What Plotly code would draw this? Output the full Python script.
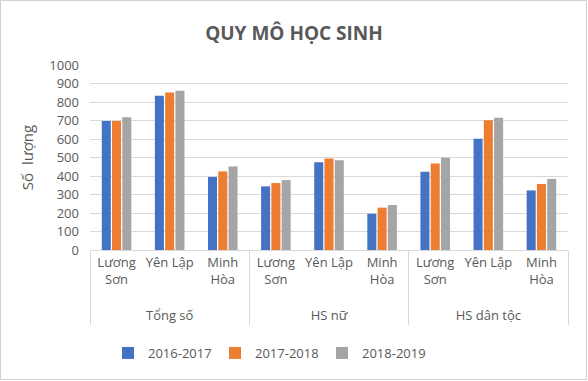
import plotly.graph_objects as go

groups = ["Tổng số", "HS nữ", "HS dân tộc"]
places = ["Lương<br>Sơn", "Yên Lập", "Minh<br>Hòa"]
series_names = ["2016-2017", "2017-2018", "2018-2019"]
v2016 = [697, 834, 395, 344, 474, 196, 423, 602, 322]
v2017 = [697, 852, 425, 362, 494, 229, 468, 701, 357]
v2018 = [718, 861, 452, 378, 485, 243, 499, 715, 384]
colors = ["#4472C4", "#ED7D31", "#A5A5A5"]

xg = ["<br>" + g for g in groups for _ in places]
xp = [p for _ in groups for p in places]

fig = go.Figure()
for name, vals, c in zip(series_names, [v2016, v2017, v2018], colors):
    fig.add_trace(go.Bar(x=[xg, xp], y=vals, name=name, marker_color=c,
                         marker_line_width=0))

W, H = 588, 381
L, R, T, B = 90, 20, 65, 131
pw, ph = W - L - R, H - T - B

fig.update_layout(
    width=W, height=H,
    margin=dict(l=L, r=R, t=T, b=B, autoexpand=False),
    paper_bgcolor="white", plot_bgcolor="white",
    font=dict(family="Open Sans, Liberation Sans, sans-serif", color="#595959", size=12),
    title=dict(text="<b>QUY MÔ HỌC SINH</b>", x=0.5, xanchor="center", y=1 - 33 / H,
               yanchor="middle", font=dict(size=19, color="#595959")),
    barmode="group", bargap=0.42, bargroupgap=0.12,
    showlegend=True,
    legend=dict(orientation="h", x=(108 - L) / pw, xanchor="left", y=-(353 - 250) / ph,
                yanchor="middle", font=dict(size=13, color="#595959"),
                itemwidth=30, entrywidth=62, entrywidthmode="pixels",
                traceorder="normal"),
    yaxis=dict(range=[0, 1000], dtick=100, showgrid=True, gridcolor="#D9D9D9",
               gridwidth=1, zeroline=False, showline=False,
               tickfont=dict(size=13, color="#595959"), ticks="", ticklabelstandoff=10,
               title=dict(text="Số  lượng", font=dict(size=15, color="#595959"), standoff=12)),
    xaxis=dict(type="multicategory", showline=True, linecolor="#D9D9D9",
               showdividers=True, dividercolor="#D9D9D9", dividerwidth=1,
               tickangle=0,
               tickfont=dict(size=13, color="#595959"), ticks=""),
    shapes=[dict(type="rect", xref="paper", yref="paper",
                 x0=-(L - 0.5) / pw, x1=1 + (R - 1.5) / pw,
                 y0=-(B - 1.5) / ph, y1=1 + (T - 0.5) / ph,
                 line=dict(color="#D0D0D0", width=1))],
)

fig.write_html("out.html", config={"displayModeBar": False},
               post_script="document.body.style.margin='0';document.body.style.overflow='hidden';")
